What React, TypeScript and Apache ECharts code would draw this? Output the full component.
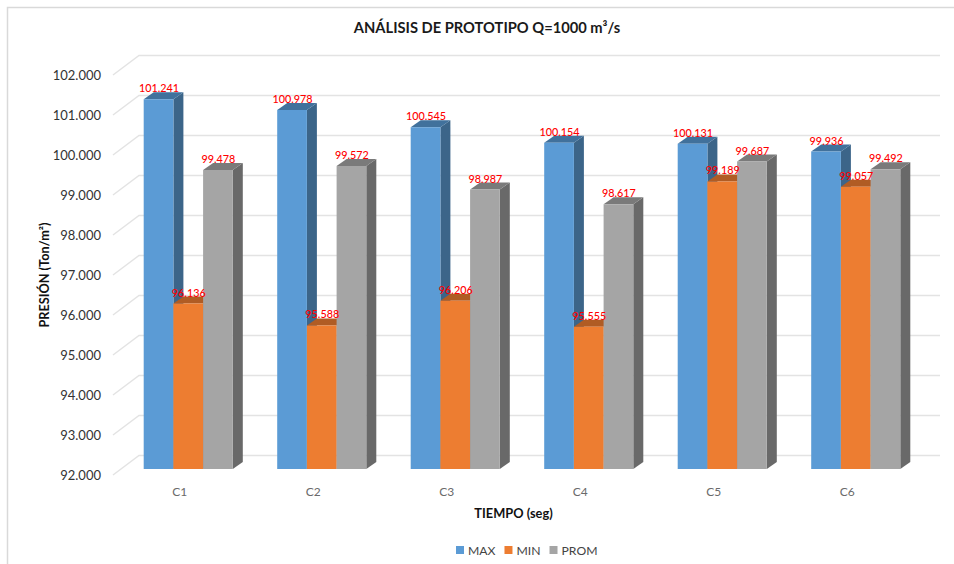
import React, { useEffect, useRef } from "react";
import * as echarts from "echarts";

const categories = ["C1", "C2", "C3", "C4", "C5", "C6"];
const maxValues = [101.241, 100.978, 100.545, 100.154, 100.131, 99.936];
const minValues = [96.136, 95.588, 96.206, 95.555, 99.189, 99.057];
const promValues = [99.478, 99.572, 98.987, 98.617, 99.687, 99.492];
const yTicks = [92, 93, 94, 95, 96, 97, 98, 99, 100, 101, 102];

const FONT = "Lato, 'Open Sans', sans-serif";
const BASE = 92;
const WALL_DX = 26;
const WALL_DY = -19.5;
const BAR_W = 29.7;
const DEPTH_X = 10;
const DEPTH_Y = -7;
const SHIFT_X = 8.5;
const SHIFT_Y = -6;

function barRenderer(slot: number, front: string, top: string, side: string) {
  return (_params: any, api: any) => {
    const cat = api.value(0);
    const val = api.value(1);
    const pt = api.coord([cat, val]);
    const base = api.coord([cat, BASE]);
    const x0 = pt[0] + SHIFT_X + (slot - 1.5) * BAR_W;
    const x1 = x0 + BAR_W;
    const yT = pt[1] + SHIFT_Y;
    const yB = base[1] + SHIFT_Y;
    return {
      type: "group",
      children: [
        {
          type: "polygon",
          shape: { points: [[x1, yT], [x1 + DEPTH_X, yT + DEPTH_Y], [x1 + DEPTH_X, yB + DEPTH_Y], [x1, yB]] },
          style: { fill: side },
        },
        {
          type: "polygon",
          shape: { points: [[x0, yT], [x0 + DEPTH_X, yT + DEPTH_Y], [x1 + DEPTH_X, yT + DEPTH_Y], [x1, yT]] },
          style: { fill: top },
        },
        { type: "rect", shape: { x: x0, y: yT, width: BAR_W, height: yB - yT }, style: { fill: front } },
      ],
    };
  };
}

function labelRenderer(slot: number) {
  return (_params: any, api: any) => {
    const cat = api.value(0);
    const val = api.value(1);
    const pt = api.coord([cat, val]);
    return {
      type: "text",
      x: pt[0] + SHIFT_X + (slot - 1) * BAR_W + 0.5,
      y: pt[1] + SHIFT_Y - 11.5,
      style: {
        text: val.toFixed(3),
        fill: "#FF0000",
        font: `500 10.8px ${FONT}`,
        align: "center",
        verticalAlign: "middle",
      },
    };
  };
}

function wallRenderer(params: any, api: any) {
  const y = api.coord([0, api.value(1)])[1];
  const sys = params.coordSys;
  return {
    type: "polyline",
    shape: {
      points: [
        [sys.x, y],
        [sys.x + WALL_DX, y + WALL_DY],
        [sys.x + sys.width + WALL_DX, y + WALL_DY],
      ],
    },
    style: { stroke: "#E3E3E3", lineWidth: 1.5, fill: "none" },
  };
}

const pairs = (vals: number[]) => vals.map((v, i) => [i, v]);

export default function App() {
  const ref = useRef<HTMLDivElement>(null);
  useEffect(() => {
    const chart = echarts.init(ref.current!, undefined, { renderer: "svg" });
    const bars = [
      { name: "MAX", vals: maxValues, c: ["#5B9BD5", "#41719C", "#3C6589"] },
      { name: "MIN", vals: minValues, c: ["#ED7D31", "#B05C24", "#A8561F"] },
      { name: "PROM", vals: promValues, c: ["#A5A5A5", "#7A7A7A", "#696969"] },
    ];
    chart.setOption({
      animation: false,
      backgroundColor: "#FFFFFF",
      title: {
        text: "ANÁLISIS DE PROTOTIPO Q=1000 m³/s",
        left: 482,
        top: 14,
        textAlign: "center",
        textStyle: { fontFamily: FONT, fontSize: 14.7, fontWeight: "bold", color: "#1A1A1A" },
      },
      legend: {
        data: bars.map((b) => b.name),
        left: 451,
        top: 539,
        itemWidth: 8,
        itemHeight: 8,
        itemGap: 9,
        icon: "rect",
        textStyle: { fontFamily: FONT, fontSize: 12.2, color: "#444444", padding: [0, 0, 0, -1] },
      },
      grid: { left: 113, top: 75, width: 801, height: 400, containLabel: false },
      xAxis: {
        type: "category",
        data: categories,
        axisLine: { show: false },
        axisTick: { show: false },
        splitLine: { show: false },
        axisLabel: { fontFamily: FONT, fontSize: 12, color: "#6A6A6A", margin: 10 },
        name: "TIEMPO (seg)",
        nameLocation: "middle",
        nameGap: 31,
        nameMoveOverlap: false,
        nameTextStyle: { fontFamily: FONT, fontSize: 12.8, fontWeight: "bold", color: "#111111" },
      },
      yAxis: {
        type: "value",
        min: 92,
        max: 102,
        interval: 1,
        axisLine: { show: false },
        axisTick: { show: false },
        splitLine: { show: false },
        axisLabel: {
          fontFamily: FONT,
          fontSize: 13,
          color: "#333333",
          margin: 12,
          formatter: (v: number) => v.toFixed(3),
        },
        name: "PRESIÓN (Ton/m²)",
        nameLocation: "middle",
        nameGap: 63,
        nameMoveOverlap: false,
        nameTextStyle: { fontFamily: FONT, fontSize: 12.7, fontWeight: "bold", color: "#111111" },
      },
      graphic: [
        {
          type: "polyline",
          shape: { points: [[7.5, 564], [7.5, 7.5], [954, 7.5]] },
          style: { stroke: "#D9D9D9", lineWidth: 1.5, fill: "none" },
          silent: true,
        },
      ],
      series: [
        {
          type: "custom",
          name: "wall",
          renderItem: wallRenderer,
          data: yTicks.map((t) => [0, t]),
          encode: { x: 0, y: 1 },
          z: 1,
          silent: true,
        },
        ...bars.map((b, i) => ({
          type: "custom",
          name: b.name,
          renderItem: barRenderer(i, b.c[0], b.c[1], b.c[2]),
          data: pairs(b.vals),
          encode: { x: 0, y: 1 },
          itemStyle: { color: b.c[0] },
          z: 2 + i,
          silent: true,
        })),
        ...bars.map((b, i) => ({
          type: "custom",
          name: b.name + " labels",
          renderItem: labelRenderer(i),
          data: pairs(b.vals),
          encode: { x: 0, y: 1 },
          z: 10,
          silent: true,
        })),
      ],
    });
    return () => chart.dispose();
  }, []);
  return <div ref={ref} style={{ position: "absolute", left: 0, top: 0, width: 954, height: 564 }} />;
}
